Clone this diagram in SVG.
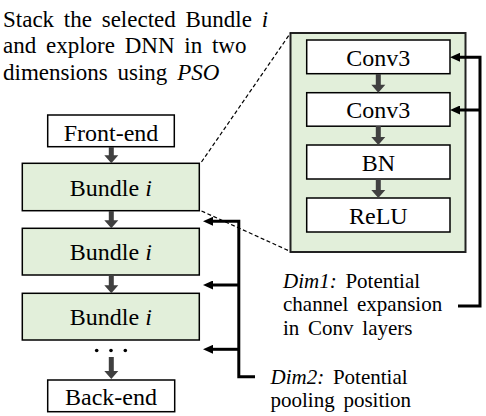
<svg xmlns="http://www.w3.org/2000/svg" width="486" height="416" viewBox="0 0 486 416">
<style>
text{font-family:'Liberation Serif',serif;fill:#000}
.t{font-size:23px;word-spacing:4px}
.lbl{font-size:24px;text-anchor:middle}
.dim{font-size:21px;word-spacing:3.5px}
.it{font-style:italic}
.w{fill:#fff;stroke:#000;stroke-width:1.5}
.g{fill:#e2efda;stroke:#000;stroke-width:1.5}
.gout{fill:#e2efda;stroke:#222;stroke-width:2}
.da{fill:#404040}
.con{fill:none;stroke:#000;stroke-width:3}
.dash{fill:none;stroke:#000;stroke-width:1.2;stroke-dasharray:4 2.5}
</style>
<defs>
<marker id="ah" viewBox="0 0 10 9" refX="4" refY="4.5" markerWidth="10" markerHeight="9" markerUnits="userSpaceOnUse" orient="auto">
<path d="M0,0 L10,4.5 L0,9 Z" fill="#000"/>
</marker>
</defs>
<g id="title">
<text class="t" x="3" y="27">Stack the selected Bundle <tspan class="it">i</tspan></text>
<text class="t" x="3" y="53">and explore DNN in two</text>
<text class="t" x="3" y="80">dimensions using <tspan class="it">PSO</tspan></text>
</g>
<g id="bundle-detail">
<rect class="gout" x="290.5" y="33" width="175" height="219"/>
</g>
<g id="conv3-a"><rect class="w" x="306.7" y="40" width="143.3" height="33.7"/><text class="lbl" x="378.3" y="66">Conv3</text></g>
<g id="conv3-b"><rect class="w" x="306.7" y="92.7" width="143.3" height="33.5"/><text class="lbl" x="378.3" y="118.3">Conv3</text></g>
<g id="bn"><rect class="w" x="306.7" y="145" width="143.3" height="34"/><text class="lbl" x="378.3" y="170.7">BN</text></g>
<g id="relu"><rect class="w" x="306.7" y="198" width="143.3" height="34"/><text class="lbl" x="378.3" y="224">ReLU</text></g>
<g id="front-end"><rect class="w" x="47.7" y="115" width="126.6" height="31.7"/><text class="lbl" x="111" y="140.5">Front-end</text></g>
<g id="bundle-1"><rect class="g" x="22.3" y="163.3" width="177" height="47.4"/><text class="lbl" x="110.8" y="195.5">Bundle <tspan class="it">i</tspan></text></g>
<g id="bundle-2"><rect class="g" x="22.3" y="228.3" width="177" height="46.7"/><text class="lbl" x="110.8" y="260.3">Bundle <tspan class="it">i</tspan></text></g>
<g id="bundle-3"><rect class="g" x="22.3" y="293.3" width="177" height="46.7"/><text class="lbl" x="110.8" y="325.3">Bundle <tspan class="it">i</tspan></text></g>
<g id="ellipsis"><circle cx="96.7" cy="350.5" r="1.8"/><circle cx="111" cy="350.5" r="1.8"/><circle cx="125.3" cy="350.5" r="1.8"/></g>
<g id="back-end"><rect class="w" x="47.7" y="380" width="127" height="31.7"/><text class="lbl" x="111" y="405.3">Back-end</text></g>
<g id="dim1-label">
<text class="dim" x="283" y="287.5"><tspan class="it">Dim1:</tspan> Potential</text>
<text class="dim" x="283" y="311">channel expansion</text>
<text class="dim" x="283" y="335">in Conv layers</text>
</g>
<g id="dim2-label">
<text class="dim" x="270.5" y="384"><tspan class="it">Dim2:</tspan> Potential</text>
<text class="dim" x="270.5" y="407">pooling position</text>
</g>
<g id="connectors">
<path class="da" d="M108.8,147 H113.8 V155.3 H118.3 L111.3,163.3 L104.3,155.3 H108.8 Z"/>
<path class="da" d="M108.8,211 H113.8 V220.3 H118.3 L111.3,228.3 L104.3,220.3 H108.8 Z"/>
<path class="da" d="M108.8,275 H113.8 V285.3 H118.3 L111.3,293.3 L104.3,285.3 H108.8 Z"/>
<path class="da" d="M108.8,357 H113.8 V371 H118.3 L111.3,379 L104.3,371 H108.8 Z"/>
<path class="da" d="M375.8,74 H380.8 V84.7 H385.3 L378.3,92.7 L371.3,84.7 H375.8 Z"/>
<path class="da" d="M375.8,126 H380.8 V137 H385.3 L378.3,145 L371.3,137 H375.8 Z"/>
<path class="da" d="M375.8,179 H380.8 V190 H385.3 L378.3,198 L371.3,190 H375.8 Z"/>
<path class="dash" d="M201.5,162 L290.5,33"/>
<path class="dash" d="M201.5,211 L290.5,251.5"/>
<path class="con" d="M458,306 H480 V57.3 H456" marker-end="url(#ah)"/>
<path class="con" d="M480,110 H456" marker-end="url(#ah)"/>
<path class="con" d="M255,376.7 H238.8 V221.3 H209" marker-end="url(#ah)"/>
<path class="con" d="M238.8,285 H209" marker-end="url(#ah)"/>
<path class="con" d="M238.8,349.3 H209" marker-end="url(#ah)"/>
</g>
</svg>
